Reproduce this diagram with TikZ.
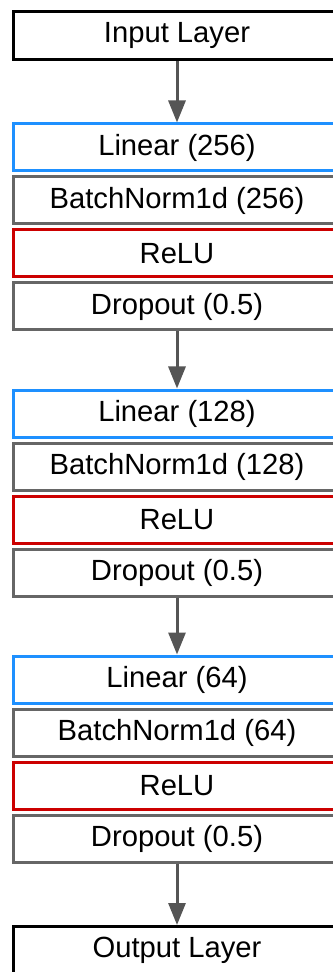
\documentclass[tikz,border=0pt]{standalone}
\usepackage{fontspec}
\setmainfont{Liberation Sans}
\usetikzlibrary{arrows.meta}
\definecolor{linblue}{HTML}{1E90FF}
\definecolor{relured}{HTML}{CC0000}
\definecolor{normgray}{HTML}{666666}
\definecolor{arrowgray}{HTML}{555555}

\begin{document}
\begin{tikzpicture}[
    x=0.5pt, y=0.5pt,
    font=\fontsize{14.6}{17}\selectfont,
    >={Triangle[length=11pt, width=8.5pt]},
    layer/.style={draw=black, fill=white, line width=1.5pt, minimum width=163.5pt, minimum height=23.5pt, inner sep=0pt},
    iolayer/.style={layer, minimum height=24pt},
    linbox/.style={layer, draw=linblue},
    normbox/.style={layer, draw=normgray},
    relubox/.style={layer, draw=relured},
    dropbox/.style={layer, draw=normgray},
    arrow/.style={arrowgray, ->, line width=1.5pt},
]
    \useasboundingbox (0,0) rectangle (332,-972);

    % =====================================================================
    % INPUT
    % =====================================================================
    \node[iolayer] (inlayer) at (177, -35.5) {Input Layer};

    % =====================================================================
    % BLOCK 1
    % =====================================================================
    \node[linbox] (lin1) at (177, -147.5) {Linear (256)};
    \node[normbox] (bn1) at (177, -200.5) {BatchNorm1d (256)};
    \node[relubox] (relu1) at (177, -253.5) {ReLU};
    \node[dropbox] (drop1) at (177, -306.5) {Dropout (0.5)};

    % =====================================================================
    % BLOCK 2
    % =====================================================================
    \node[linbox] (lin2) at (177, -413.5) {Linear (128)};
    \node[normbox] (bn2) at (177, -466.5) {BatchNorm1d (128)};
    \node[relubox] (relu2) at (177, -519.5) {ReLU};
    \node[dropbox] (drop2) at (177, -572.5) {Dropout (0.5)};

    % =====================================================================
    % BLOCK 3
    % =====================================================================
    \node[linbox] (lin3) at (177, -679.5) {Linear (64)};
    \node[normbox] (bn3) at (177, -732.5) {BatchNorm1d (64)};
    \node[relubox] (relu3) at (177, -785.5) {ReLU};
    \node[dropbox] (drop3) at (177, -838.5) {Dropout (0.5)};

    % =====================================================================
    % OUTPUT
    % =====================================================================
    \node[iolayer] (outlayer) at (177, -950.5) {Output Layer};

    % Flow between blocks
    \draw[arrow] (inlayer) -- (lin1);
    \draw[arrow] (drop1) -- (lin2);
    \draw[arrow] (drop2) -- (lin3);
    \draw[arrow] (drop3) -- (outlayer);

\end{tikzpicture}
\end{document}
